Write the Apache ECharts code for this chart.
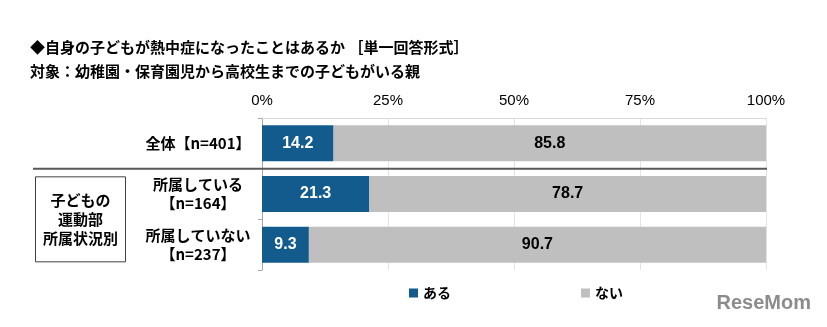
<!DOCTYPE html>
<html>
<head>
<meta charset="utf-8">
<script src="https://cdn.jsdelivr.net/npm/echarts@6/dist/echarts.min.js"></script>
<style>
  html, body { margin: 0; padding: 0; background: #ffffff; }
  #chart { width: 827px; height: 327px; }
</style>
</head>
<body>
<div id="chart"></div>
<script>
// Survey: has your child ever had heatstroke? (single answer)
const categories = ['全体【n=401】', '所属している\n【n=164】', '所属していない\n【n=237】'];
const seriesNames = ['ある', 'ない'];
const yesValues = [14.2, 21.3, 9.3];
const noValues = [85.8, 78.7, 90.7];
const tickValues = [0, 25, 50, 75, 100];

const titleLine1 = '◆自身の子どもが熱中症になったことはあるか ［単一回答形式］';
const titleLine2 = '対象：幼稚園・保育園児から高校生までの子どもがいる親';
const groupLabel = '子どもの\n運動部\n所属状況別';

const BLUE = '#125b8c';
const GRAY = '#bfbfbf';
const JP = '"Noto Sans CJK JP", "Noto Sans", sans-serif';
const NUM = '"Liberation Sans Narrow", "Liberation Sans", Arial, sans-serif';

const chart = echarts.init(document.getElementById('chart'), null, { renderer: 'canvas' });

const option = {
  animation: false,
  backgroundColor: '#ffffff',
  grid: { left: 262, right: 61, top: 118, bottom: 57 },
  legend: {
    data: seriesNames,
    bottom: 22,
    left: 404,
    itemGap: 130,
    itemWidth: 9,
    itemHeight: 9,
    icon: 'rect',
    textStyle: { fontFamily: JP, fontWeight: 'bold', fontSize: 14, color: '#000' }
  },
  xAxis: {
    type: 'value',
    position: 'top',
    min: 0,
    max: 100,
    interval: 25,
    axisLine: { show: true, lineStyle: { color: '#d9d9d9', width: 1 } },
    axisTick: { show: false },
    splitLine: { show: true, lineStyle: { color: '#e3e3e3', width: 1 } },
    axisLabel: {
      margin: 10,
      fontFamily: NUM,
      fontSize: 15,
      color: '#000',
      formatter: v => (tickValues.indexOf(v) >= 0 ? v + '%' : '')
    }
  },
  yAxis: {
    type: 'category',
    inverse: true,
    data: categories,
    axisLine: { show: true, lineStyle: { color: '#a6a6a6', width: 1 } },
    axisTick: { show: true, length: 4, lineStyle: { color: '#a6a6a6' } },
    axisLabel: {
      margin: 64,
      align: 'center',
      fontFamily: JP,
      fontWeight: 'bold',
      fontSize: 15,
      lineHeight: 19,
      color: '#000'
    }
  },
  series: [
    {
      name: seriesNames[0],
      type: 'bar',
      stack: 'total',
      barWidth: '71%',
      data: yesValues,
      itemStyle: { color: BLUE },
      label: {
        show: true,
        position: 'inside',
        color: '#fff',
        fontFamily: NUM,
        fontWeight: 'bold',
        fontSize: 16,
        formatter: p => p.value.toFixed(1)
      }
    },
    {
      name: seriesNames[1],
      type: 'bar',
      stack: 'total',
      data: noValues,
      itemStyle: { color: GRAY },
      label: {
        show: true,
        position: 'inside',
        color: '#000',
        fontFamily: NUM,
        fontWeight: 'bold',
        fontSize: 16,
        formatter: p => p.value.toFixed(1)
      }
    }
  ]
};

chart.setOption(option);

// Headings, the divider under the total row, and the grouping box
const y0 = chart.convertToPixel({ yAxisIndex: 0 }, 0);
const y1 = chart.convertToPixel({ yAxisIndex: 0 }, 1);
const y2 = chart.convertToPixel({ yAxisIndex: 0 }, 2);
const dividerY = (y0 + y1) / 2;
const xRight = chart.convertToPixel({ xAxisIndex: 0 }, 100);
const groupMidY = (y1 + y2) / 2;

chart.setOption({
  graphic: [
    {
      type: 'text', left: 30, top: 40, z: 10,
      style: { text: titleLine1, font: 'bold 15px ' + JP, fill: '#000' }
    },
    {
      type: 'text', left: 30, top: 64, z: 10,
      style: { text: titleLine2, font: 'bold 15px ' + JP, fill: '#000' }
    },
    {
      type: 'line', z: 10,
      shape: { x1: 33, y1: dividerY, x2: xRight + 1, y2: dividerY },
      style: { stroke: '#595959', lineWidth: 2 }
    },
    {
      type: 'rect', z: 10,
      shape: { x: 35.5, y: groupMidY - 42.5, width: 90, height: 85 },
      style: { fill: '#fff', stroke: '#404040', lineWidth: 1 }
    },
    {
      type: 'text', z: 11,
      x: 80.5, y: groupMidY,
      style: {
        text: groupLabel, font: 'bold 15px ' + JP, lineHeight: 19,
        fill: '#000', align: 'center', verticalAlign: 'middle'
      }
    },
    {
      type: 'text', z: 10, right: 16, bottom: 14,
      style: { text: 'ReseMom', font: 'bold 20px "Liberation Sans", Arial, sans-serif', fill: '#8c8c8c' }
    }
  ]
});
</script>
</body>
</html>
